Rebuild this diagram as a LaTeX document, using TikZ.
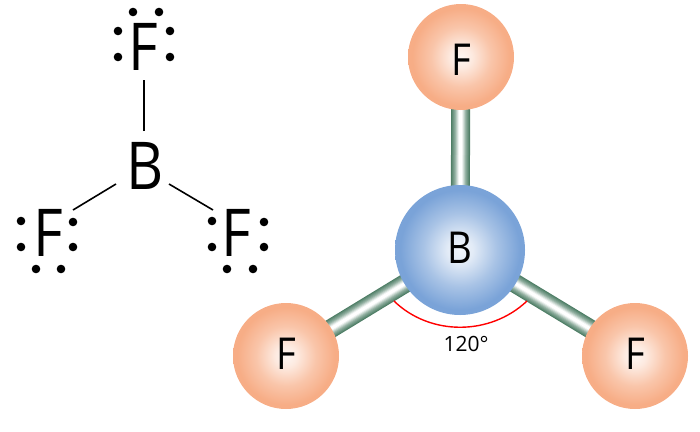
\documentclass[tikz,border=0pt]{standalone}
\usepackage{fontspec}
\setmainfont[FakeStretch=0.87]{Open Sans}
\newfontfamily\anglefont{Open Sans}
\definecolor{bondDark}{RGB}{78,126,102}
\definecolor{atomBlue}{RGB}{122,163,216}
\definecolor{atomOrange}{RGB}{247,173,134}
\pgfdeclareradialshading{ballblue}{\pgfpoint{0bp}{0bp}}{
  color(0bp)=(white!90!atomBlue); color(5bp)=(white!78!atomBlue); color(14bp)=(white!35!atomBlue);
  color(23bp)=(atomBlue); color(100bp)=(atomBlue)}
\pgfdeclareradialshading{ballorange}{\pgfpoint{0bp}{0bp}}{
  color(0bp)=(white!90!atomOrange); color(5bp)=(white!75!atomOrange); color(14bp)=(white!30!atomOrange);
  color(23bp)=(atomOrange); color(100bp)=(atomOrange)}
\tikzset{
  lewis/.style={font=\fontsize{66}{66}\selectfont, inner sep=0pt},
  atomlabel/.style={font=\fontsize{44}{44}\selectfont},
  dot/.style={circle, fill=black, inner sep=0pt, minimum size=8.6pt},
  link/.style={line width=1.6pt},
  forange/.style={circle, inner sep=0pt, minimum size=106pt, shading=ballorange},
  bblue/.style={circle, inner sep=0pt, minimum size=130pt, shading=ballblue},
}
\begin{document}
\begin{tikzpicture}[x=1pt, y=-1pt]
  \useasboundingbox (0,0) rectangle (700,431);
  % lewis structure
  \node (B) [lewis] at (145,166) {B};
  \node (F1) [lewis] at (143,47) {F};
  \node (F2) [lewis] at (48.5,233) {F};
  \node (F3) [lewis] at (236,233) {F};
  \coordinate (a1) at (144,80);
  \coordinate (b1) at (144,131);
  \coordinate (a2) at (116,184);
  \coordinate (b2) at (73,210);
  \coordinate (a3) at (169,184);
  \coordinate (b3) at (213,210);
  \draw[link] (b1) -- (a1);
  \draw[link] (a2) -- (b2);
  \draw[link] (a3) -- (b3);
  \foreach \x/\y [count=\i] in {133/12, 159/12, 118/31, 170/31, 118/57, 170/57,
      21/221, 21/247, 73/222, 73/247, 36/269, 61/269,
      212/221, 212/247, 264/222, 264/247, 227/269, 253/269}
    \node (d\i) [dot] at (\x,\y) {};
  % ball and stick model
  \coordinate (c) at (460,250);
  \coordinate (c1) at (461,57);
  \coordinate (c2) at (286,356);
  \coordinate (c3) at (635,356);
  \foreach \e in {c1,c2,c3}
    \foreach \w/\m in {19/0, 17/10, 15/20, 13/30, 11/42, 9/58, 7/74, 5/90, 3/100}
      \draw[line width=\w pt, white!\m!bondDark] (c) -- (\e);
  \draw[red, line width=1.4pt] (394,301) .. controls (430,336) and (490,336) .. (527,301);
  \node (atomB) [bblue] at (c) {};
  \node (atomF1) [forange] at (c1) {};
  \node (atomF2) [forange] at (c2) {};
  \node (atomF3) [forange] at (c3) {};
  \node (labB) [atomlabel] at (460,248) {B};
  \node (labF1) [atomlabel] at (461,60) {F};
  \node (labF2) [atomlabel] at (286,354) {F};
  \node (labF3) [atomlabel] at (635,354) {F};
  \node (angle) [font=\anglefont\fontsize{21}{21}\selectfont] at (466,344) {120°};
\end{tikzpicture}
\end{document}
